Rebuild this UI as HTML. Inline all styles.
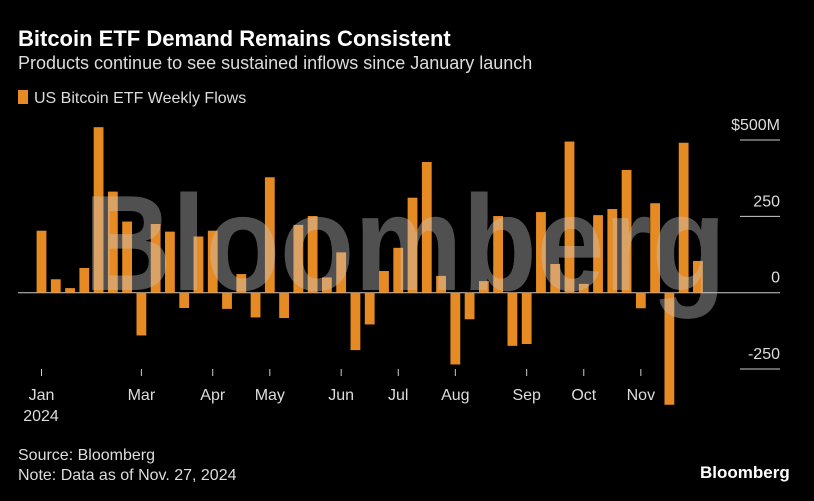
<!DOCTYPE html>
<html><head><meta charset="utf-8"><style>
body{margin:0;background:#000;width:814px;height:501px;overflow:hidden;font-family:"Liberation Sans",sans-serif;color:#fff}
.t{position:absolute;white-space:nowrap}
</style></head><body>
<div class="t" style="left:18px;top:26px;font-size:22px;font-weight:bold">Bitcoin ETF Demand Remains Consistent</div>
<div class="t" style="left:18px;top:53px;font-size:18px;color:#ddd">Products continue to see sustained inflows since January launch</div>
<div class="t" style="left:18px;top:90px;font-size:16px;color:#ddd"><span style="display:inline-block;width:10px;height:14px;background:#e68a24;margin-right:6px;vertical-align:-1px"></span>US Bitcoin ETF Weekly Flows</div>
<svg id="c" width="814" height="501" style="position:absolute;left:0;top:0"></svg>
<div class="t" style="left:18px;top:447px;font-size:16px;color:#ddd">Source: Bloomberg</div>
<div class="t" style="left:18px;top:467px;font-size:16px;color:#ddd">Note: Data as of Nov. 27, 2024</div>
<div class="t" style="left:700px;top:463px;font-size:17px;font-weight:bold">Bloomberg</div>
<script>
const values=[203,44,15,81,542,331,233,-140,225,200,-50,184,203,-53,61,-81,378,-83,222,251,50,132,-188,-104,71,147,311,428,55,-235,-87,38,251,-174,-168,264,94,495,29,254,274,402,-51,293,-367,491,104];
const monthLabels=["Jan","Mar","Apr","May","Jun","Jul","Aug","Sep","Oct","Nov"];
const monthIdx=[0,7,12,16,21,25,29,34,38,42];
const yTicks=[500,250,0,-250];
const yTickLabels=["$500M","250","0","-250"];
const NS="http://www.w3.org/2000/svg",svg=document.getElementById('c');
const y=v=>292.7-v*0.3054, x=i=>41.5+i*14.27;
function mk(t,a){const e=document.createElementNS(NS,t);for(const k in a)e.setAttribute(k,a[k]);svg.appendChild(e);return e;}
yTicks.forEach((v,i)=>{
 const l=mk('line',{x1:v===0?18:740,x2:780,y1:y(v),y2:y(v),stroke:'#ccc','stroke-width':1});
 
 
 const t=mk('text',{x:780,y:y(v)-10,'text-anchor':'end','font-size':16,fill:'#ddd','font-family':'Liberation Sans, sans-serif'});
 t.textContent=yTickLabels[i];
 
 
});
values.forEach((v,i)=>{
 const r=mk('rect',{x:x(i)-4.9,width:9.8,y:Math.min(y(v),y(0)),height:Math.abs(y(v)-y(0)),fill:'#e68a24'});
 
 
});
monthIdx.forEach((m,i)=>{
 const tk=mk('line',{x1:x(m),x2:x(m),y1:369,y2:376,stroke:'#ccc','stroke-width':1});
 
 
 const t=mk('text',{x:x(m),y:400,'text-anchor':'middle','font-size':16,fill:'#ddd','font-family':'Liberation Sans, sans-serif'});
 t.textContent=monthLabels[i];
 
 
});
const yr=mk('text',{x:41,y:421,'text-anchor':'middle','font-size':16,fill:'#ddd','font-family':'Liberation Sans, sans-serif'});
yr.textContent='2024';


const wm=mk('text',{x:84,y:290,'font-size':136,'font-weight':'bold',fill:'rgba(200,200,200,0.4)','font-family':'Liberation Sans, sans-serif',textLength:642,lengthAdjust:'spacingAndGlyphs'});
wm.textContent='Bloomberg';


</script>
</body></html>
